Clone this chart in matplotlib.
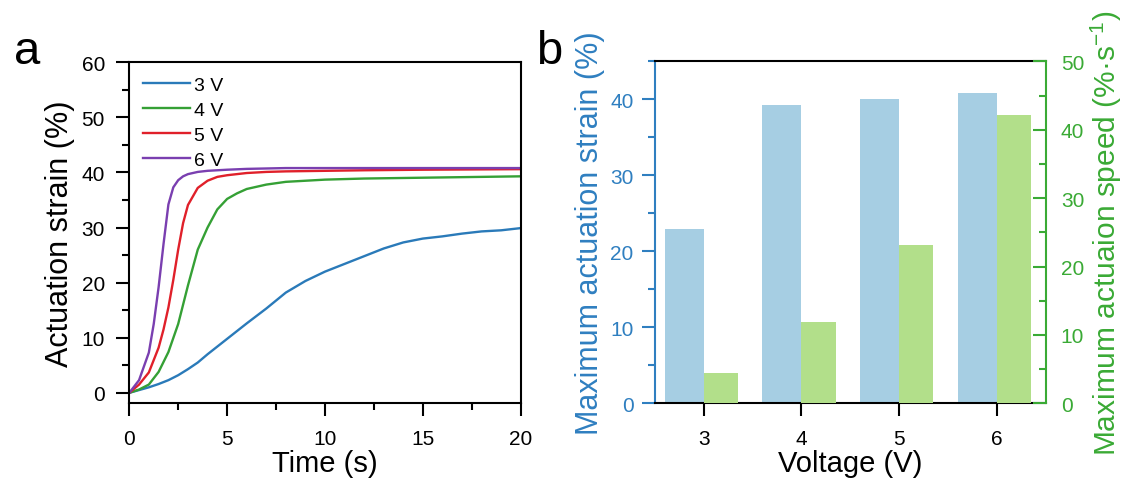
import matplotlib
matplotlib.use("Agg")
import matplotlib.pyplot as plt

plt.rcParams['font.family'] = ['Liberation Sans', 'DejaVu Sans']
plt.rcParams['mathtext.fontset'] = 'custom'
plt.rcParams['mathtext.rm'] = 'Liberation Sans'

# ---------------- data: panel a ----------------
t_3v = [0, 0.5, 1, 1.5, 2, 2.5, 3, 3.5, 4, 5, 6, 7, 8, 9, 10, 11, 12, 13, 14, 15, 16, 17, 18, 19, 20]
s_3v = [0, 0.5, 1.0, 1.6, 2.3, 3.2, 4.3, 5.5, 7.0, 9.8, 12.6, 15.3, 18.2, 20.3, 22.0, 23.4, 24.8, 26.2, 27.3, 28.0, 28.4, 28.9, 29.3, 29.5, 29.9]

t_4v = [0, 0.5, 1, 1.5, 2, 2.5, 3, 3.5, 4, 4.5, 5, 5.5, 6, 7, 8, 9, 10, 12, 14, 16, 18, 20]
s_4v = [0, 0.6, 1.5, 3.8, 7.4, 12.5, 19.5, 26.0, 30.0, 33.3, 35.2, 36.2, 37.0, 37.8, 38.3, 38.5, 38.7, 38.9, 39.0, 39.1, 39.2, 39.3]

t_5v = [0, 0.5, 1, 1.5, 1.75, 2, 2.25, 2.5, 2.75, 3, 3.5, 4, 4.5, 5, 6, 7, 8, 10, 12, 15, 20]
s_5v = [0, 1.5, 3.7, 8.2, 11.5, 15.5, 20.5, 26.0, 30.8, 34.1, 37.2, 38.5, 39.2, 39.5, 39.9, 40.1, 40.2, 40.3, 40.4, 40.5, 40.6]

t_6v = [0, 0.5, 1, 1.25, 1.5, 1.75, 2, 2.25, 2.5, 2.75, 3, 3.5, 4, 5, 6, 8, 10, 15, 20]
s_6v = [0, 2.3, 7.3, 12.5, 19.2, 27.0, 34.2, 37.3, 38.6, 39.3, 39.7, 40.1, 40.3, 40.5, 40.65, 40.8, 40.8, 40.8, 40.8]

series_labels = ['3 V', '4 V', '5 V', '6 V']
line_colors = ['#2a7ab9', '#35a035', '#e0202a', '#7a3fb0']

# ---------------- data: panel b ----------------
voltages = [3, 4, 5, 6]
max_strain = [22.9, 39.3, 40.0, 40.9]
max_speed = [4.5, 11.9, 23.2, 42.1]

blue_axis = '#2f7fc0'
green_axis = '#3aaa35'
bar_blue = '#a6cee3'
bar_green = '#b2df8a'

TICK_FS = 15
LABEL_FS = 21
YLABEL_FS = 22

fig = plt.figure(figsize=(11.27, 4.85), dpi=100)

# ---------------- panel a ----------------
axa = fig.add_axes([0.1147, 0.1664, 0.3473, 0.7031])
for t, s, lab, c in zip([t_3v, t_4v, t_5v, t_6v], [s_3v, s_4v, s_5v, s_6v], series_labels, line_colors):
    axa.plot(t, s, color=c, lw=1.7, label=lab)
axa.set_xlim(0, 20)
axa.set_ylim(-1.9, 60)
axa.set_xticks([0, 5, 10, 15, 20])
axa.set_xticks([2.5, 7.5, 12.5, 17.5], minor=True)
axa.set_yticks([0, 10, 20, 30, 40, 50, 60])
axa.set_yticks([5, 15, 25, 35, 45, 55], minor=True)
axa.tick_params(which='major', direction='out', length=9.5, width=1.5, labelsize=TICK_FS)
axa.tick_params(which='minor', direction='out', length=5, width=1.5)
axa.tick_params(axis='x', which='major', pad=9)
axa.tick_params(axis='y', which='major', pad=8)
for sp in axa.spines.values():
    sp.set_linewidth(1.5)
axa.set_xlabel('Time (s)', fontsize=LABEL_FS, labelpad=1)
axa.set_ylabel('Actuation strain (%)', fontsize=YLABEL_FS, labelpad=5)
leg = axa.legend(loc='upper left', bbox_to_anchor=(0.035, 0.96), frameon=False,
                 fontsize=TICK_FS - 1, handlelength=2.4, handletextpad=0.25, labelspacing=0.38,
                 borderpad=0, borderaxespad=0)

fig.text(0.012, 0.868, 'a', fontsize=34, ha='left', va='baseline')
fig.text(0.476, 0.868, 'b', fontsize=34, ha='left', va='baseline')

# ---------------- panel b ----------------
axb = fig.add_axes([0.5812, 0.1664, 0.3465, 0.705])
axb.bar(voltages, max_strain, width=-0.4, align='edge', color=bar_blue)
axb.set_xlim(2.5, 6.5)
axb.set_ylim(0, 45)
axb.set_xticks(voltages)
axb.set_yticks([0, 10, 20, 30, 40])
axb.set_yticks([5, 15, 25, 35, 45], minor=True)
axb.tick_params(axis='x', which='major', direction='out', length=9.5, width=1.5,
                labelsize=TICK_FS, pad=9, color='black')
axb.tick_params(axis='y', which='major', direction='out', length=9.5, width=1.5,
                labelsize=TICK_FS, pad=6, colors=blue_axis)
axb.tick_params(axis='y', which='minor', direction='out', length=5, width=1.5, colors=blue_axis)
axb.spines['left'].set_color(blue_axis)
axb.spines['right'].set_visible(False)
for sp in axb.spines.values():
    sp.set_linewidth(1.5)
axb.set_xlabel('Voltage (V)', fontsize=LABEL_FS, labelpad=1)
axb.set_ylabel('Maximum actuation strain (%)', fontsize=YLABEL_FS, color=blue_axis, labelpad=4)

ax2 = axb.twinx()
ax2.bar(voltages, max_speed, width=0.35, align='edge', color=bar_green)
ax2.set_ylim(0, 50)
ax2.set_xlim(2.5, 6.5)
ax2.set_yticks([0, 10, 20, 30, 40, 50])
ax2.set_yticks([5, 15, 25, 35, 45], minor=True)
ax2.tick_params(axis='y', which='major', direction='in', length=9.5, width=1.5,
                labelsize=TICK_FS, pad=11, colors=green_axis)
ax2.tick_params(axis='y', which='minor', direction='in', length=5, width=1.5, colors=green_axis)
for name, sp in ax2.spines.items():
    sp.set_linewidth(1.5)
    if name != 'right':
        sp.set_visible(False)
ax2.spines['right'].set_color(green_axis)
ax2.set_ylabel('Maximum actuaion speed (%·s$^{\\mathregular{-1}}$)', fontsize=21.5,
               color=green_axis, labelpad=3)

fig.savefig('out.png', dpi=100)
